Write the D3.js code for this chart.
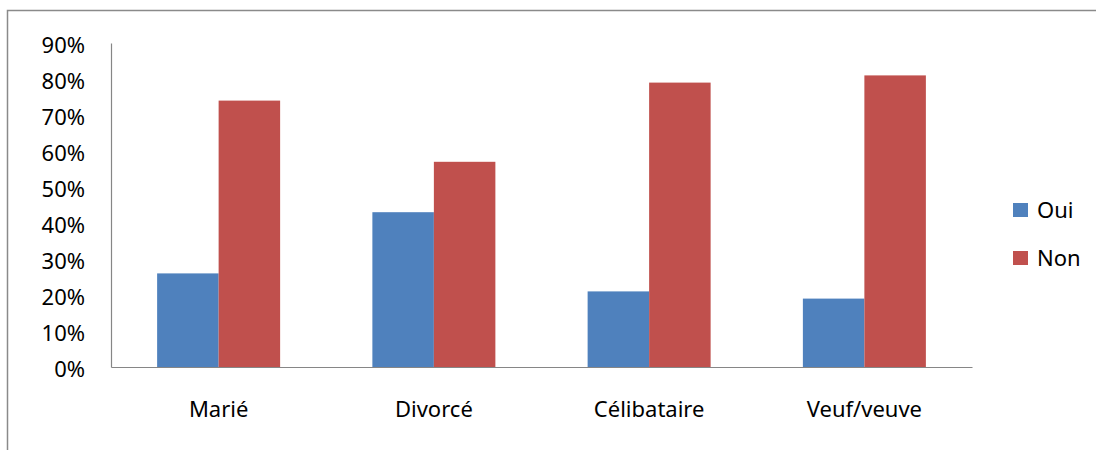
<!DOCTYPE html>
<html><head><meta charset="utf-8">
<script src="https://cdn.jsdelivr.net/npm/d3@7"></script>
<style>body{margin:0;background:#fff;} svg{display:block;}</style>
</head><body>
<svg id="chart" width="1096" height="450"></svg>
<script>
const categories = ["Marié", "Divorcé", "Célibataire", "Veuf/veuve"];
const seriesNames = ["Oui", "Non"];
const oui = [26, 43, 21, 19];
const non = [74, 57, 79, 81];
const yTicks = [0, 10, 20, 30, 40, 50, 60, 70, 80, 90];
const colors = ["#4F81BD", "#C0504D"];

(function () {
const svg = d3.select("#chart");
const font = "'Noto Sans', 'Open Sans', sans-serif";
const fs = 22;

// chart border
svg.append("rect").attr("x", 7.5).attr("y", 10.5).attr("width", 1100).attr("height", 500)
  .attr("fill", "none").attr("stroke", "#8a8a8a").attr("stroke-width", 1.5);

const mLeft = 111, mRight = 972, mTop = 43, mBottom = 367;
const x = d3.scaleBand().domain(categories).range([mLeft, mRight]).paddingInner(1.5/3.5).paddingOuter(0.75/3.5);
const x1 = d3.scaleBand().domain(seriesNames).range([0, x.bandwidth()]);
const y = d3.scaleLinear().domain([0, 90]).range([mBottom, mTop]);

const data = categories.map((c, i) => ({cat: c, vals: [oui[i], non[i]]}));

const g = svg.append("g");
g.selectAll("g.cat").data(data).join("g").attr("class", "cat")
  .attr("transform", d => `translate(${x(d.cat)},0)`)
  .selectAll("rect").data(d => d.vals.map((v, j) => ({v, s: seriesNames[j], j})))
  .join("rect")
  .attr("x", d => x1(d.s)).attr("width", x1.bandwidth())
  .attr("y", d => y(d.v)).attr("height", d => y(0) - y(d.v))
  .attr("fill", d => colors[d.j]);

// y axis
const yAxis = d3.axisLeft(y).tickValues(yTicks).tickSize(0).tickPadding(26).tickFormat(d => d + "%");
const ya = svg.append("g").attr("transform", `translate(${mLeft},0)`).call(yAxis);
ya.select(".domain").attr("stroke", "#868686").attr("stroke-width", 1.2);
ya.selectAll("text").attr("font-family", font).attr("font-size", fs).attr("fill", "#000").attr("dy", "0.42em");

// x axis
const xAxis = d3.axisBottom(d3.scaleBand().domain(categories).range([mLeft, mRight])).tickSize(0).tickPadding(34);
const xa = svg.append("g").attr("transform", `translate(0,${mBottom})`).call(xAxis);
xa.select(".domain").attr("stroke", "#868686").attr("stroke-width", 1.2);
xa.selectAll("text").attr("font-family", font).attr("font-size", fs).attr("fill", "#000");

// legend
const leg = svg.append("g");
seriesNames.forEach((s, i) => {
  const ly = 210 + i * 48;
  leg.append("rect").attr("x", 1013).attr("y", ly - 7).attr("width", 15).attr("height", 14).attr("fill", colors[i]);
  leg.append("text").attr("x", 1037).attr("y", ly).attr("dy", "0.36em")
    .attr("font-family", font).attr("font-size", fs).text(s);
});
})();
</script>
</body></html>
